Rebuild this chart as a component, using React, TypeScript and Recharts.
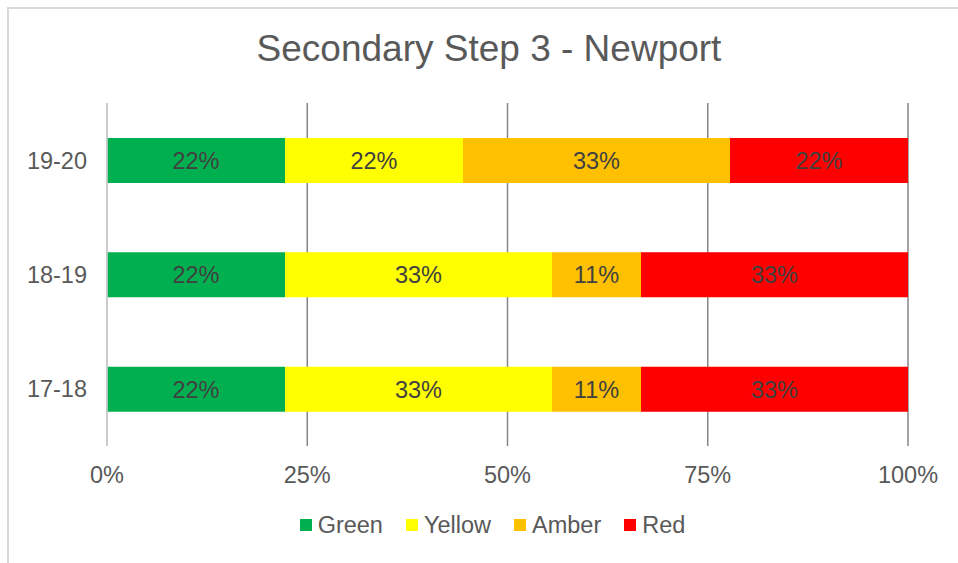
import { BarChart, Bar, XAxis, YAxis, CartesianGrid, LabelList, Legend } from 'recharts'

const FONT = '"Liberation Sans", Arial, sans-serif'

const categories = ['19-20', '18-19', '17-18']
const green = [22.2, 22.2, 22.2]
const yellow = [22.2, 33.3, 33.3]
const amber = [33.3, 11.1, 11.1]
const red = [22.2, 33.3, 33.3]
const xTicks = [0, 0.25, 0.5, 0.75, 1]

const SERIES = [
  { key: 'Green', values: green, color: '#00B050' },
  { key: 'Yellow', values: yellow, color: '#FFFF00' },
  { key: 'Amber', values: amber, color: '#FFC000' },
  { key: 'Red', values: red, color: '#FF0000' },
]

const data = categories.map((name, i) => {
  const row: Record<string, string | number> = { name }
  SERIES.forEach((s) => {
    row[s.key] = s.values[i]
  })
  return row
})

const pct = (v: any) => `${Math.round(Number(v))}%`

function renderLegend() {
  return (
    <div
      style={{
        display: 'flex',
        justifyContent: 'center',
        gap: 23,
        fontFamily: FONT,
        fontSize: 23.5,
        lineHeight: '26px',
        color: '#595959',
      }}
    >
      {SERIES.map((s) => (
        <div key={s.key} style={{ display: 'flex', alignItems: 'center' }}>
          <span
            style={{
              display: 'inline-block',
              width: 12,
              height: 12,
              background: s.color,
              marginRight: 6,
            }}
          />
          <span>{s.key}</span>
        </div>
      ))}
    </div>
  )
}

export default function App() {
  return (
    <div
      style={{
        position: 'absolute',
        left: 0,
        top: 0,
        width: 958,
        height: 563,
        overflow: 'hidden',
        background: '#fff',
      }}
    >
      {/* chart frame, runs past the right and bottom edge */}
      <div
        style={{
          position: 'absolute',
          left: 7,
          top: 7,
          width: 990,
          height: 600,
          border: '2px solid #d9d9d9',
          boxSizing: 'border-box',
        }}
      />
      <div
        style={{
          position: 'absolute',
          left: 0,
          top: 31,
          width: 978,
          textAlign: 'center',
          fontFamily: FONT,
          fontSize: 37,
          lineHeight: '36px',
          color: '#595959',
        }}
      >
        Secondary Step 3 - Newport
      </div>
      <div style={{ position: 'absolute', left: 0, top: 0 }}>
        <BarChart
          width={958}
          height={563}
          data={data}
          layout="vertical"
          stackOffset="expand"
          barSize={45}
          margin={{ top: 103, right: 50, bottom: 77, left: 7 }}
          style={{ fontFamily: FONT }}
        >
          <CartesianGrid horizontal={false} stroke="#868686" strokeWidth={1.5} />
          <XAxis
            type="number"
            domain={[0, 1]}
            ticks={xTicks}
            tickFormatter={(v) => `${Math.round(v * 100)}%`}
            axisLine={false}
            tickLine={false}
            tickSize={0}
            tickMargin={20}
            height={40}
            tick={{ fill: '#595959', fontSize: 23.5 }}
          />
          <YAxis
            type="category"
            dataKey="name"
            width={100}
            axisLine={{ stroke: '#d9d9d9', strokeWidth: 1.5 }}
            tickLine={false}
            tickSize={0}
            tickMargin={20}
            tick={{ fill: '#595959', fontSize: 23.5 }}
          />
          {SERIES.map((s) => (
            <Bar
              key={s.key}
              dataKey={s.key}
              stackId="a"
              fill={s.color}
              isAnimationActive={false}
            >
              <LabelList
                dataKey={s.key}
                position="center"
                formatter={pct}
                fill="#404040"
                fontSize={23.5}
              />
            </Bar>
          ))}
          <Legend
            layout="horizontal"
            verticalAlign="middle"
            align="center"
            content={renderLegend}
            wrapperStyle={{ top: 512, left: 0, width: 985 }}
          />
        </BarChart>
      </div>
    </div>
  )
}
